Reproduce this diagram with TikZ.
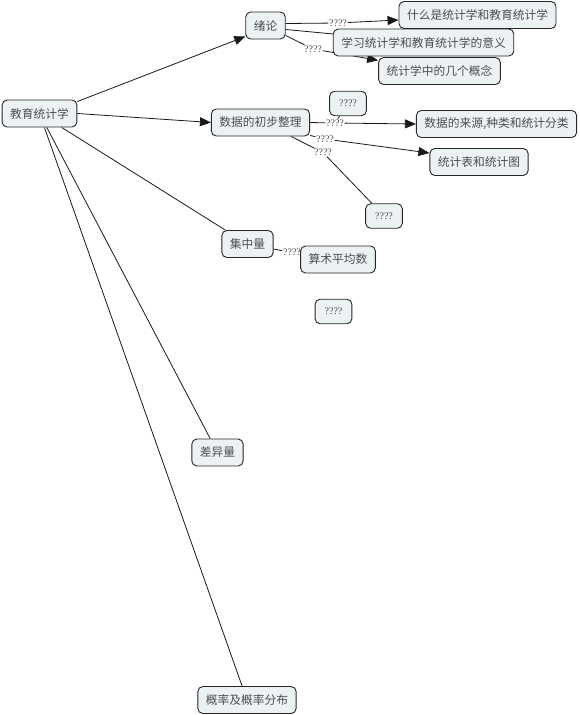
\documentclass[tikz,border=0pt]{standalone}
\usepackage{fontspec}
\newfontfamily\cjk{Noto Sans CJK SC}
\newfontfamily\qfont{Liberation Serif}
\usetikzlibrary{arrows.meta,backgrounds,calc}
\definecolor{boxfill}{HTML}{ECF2F4}
\definecolor{boxtext}{HTML}{4D4D4D}
\tikzset{
  box/.style={draw=black!85, line width=0.9pt, rounded corners=5pt, fill=boxfill, text=boxtext,
    font=\cjk\fontsize{11.75}{12}\selectfont, minimum height=27pt, inner xsep=8pt, inner ysep=0pt},
  qbox/.style={box, font=\qfont\fontsize{10}{10}\selectfont, minimum height=24.5pt, inner xsep=9.5pt},
  lab/.style={fill=white, text=boxtext, font=\qfont\fontsize{10}{10}\selectfont, inner sep=0.6pt},
  link/.style={draw=black!90, line width=0.8pt},
  arr/.style={link, -{Triangle[length=11pt,width=9pt]}}
}
\begin{document}
\begin{tikzpicture}[x=1pt,y=-1pt]
\useasboundingbox (0,0) rectangle (580,715);
% nodes
\node[box] (root) at (39.5,113.5) {教育统计学};
\node[box] (xl) at (265.5,25.5) {绪论};
\node[box] (q1) at (477.5,15) {什么是统计学和教育统计学};
\node[lab] (l2) at (313,49) {????};
\node[box] (q2) at (423.5,42.5) {学习统计学和教育统计学的意义};
\node[box] (q3) at (439.5,71) {统计学中的几个概念};
\node[lab] (l1) at (338,23) {????};
\node[qbox] (qq1) at (348,103.5) {????};
\node[box] (data) at (260.5,122.5) {数据的初步整理};
\node[lab] (l3) at (335,123) {????};
\node[lab] (l4) at (325,139) {????};
\node[lab] (l5) at (323,152.5) {????};
\node[box] (q5) at (496.5,124) {数据的来源,种类和统计分类};
\node[box] (q6) at (479,162) {统计表和统计图};
\node[qbox] (qq2) at (384,216) {????};
\node[box] (jz) at (247.5,244) {集中量};
\node[lab] (l6) at (292,252.5) {????};
\node[box] (q7) at (338,259.5) {算术平均数};
\node[qbox] (qq3) at (333.5,311.5) {????};
\node[box] (cy) at (217.5,452.5) {差异量};
\node[box] (gl) at (247,700) {概率及概率分布};
% connectors
\begin{scope}[on background layer]
\draw[arr] ([yshift=-2pt]root.north east) -- ([yshift=-11pt]xl.west);
\draw[arr] (root.east) -- (data.west);
\draw[link] (root) -- (jz);
\draw[link] (root) -- (cy);
\draw[link] (root) -- (gl);
\draw[link] ([yshift=2pt]xl.east) -- (l1);
\draw[arr] (l1) -- ([yshift=-5pt]q1.west);
\draw[link] ([yshift=-4pt]xl.east) -- (q2);
\draw[link] ([yshift=-10pt]xl.east) -- (l2);
\draw[arr] (l2) -- (q3);
\draw[link] (data.east) -- (l3);
\draw[arr] (l3) -- (q5.west);
\draw[link] (l3) -- (qq1);
\draw[link] ([yshift=1pt]data.south east) -- (l4);
\draw[arr] (l4) -- ([yshift=9pt]q6.west);
\draw[link] ([xshift=-19pt]data.south east) -- (l5);
\draw[link] (l5) -- (qq2);
\draw[link] ([yshift=-5pt]jz.east) -- (l6);
\draw[link] (l6) -- (q7);
\end{scope}
\end{tikzpicture}
\end{document}
